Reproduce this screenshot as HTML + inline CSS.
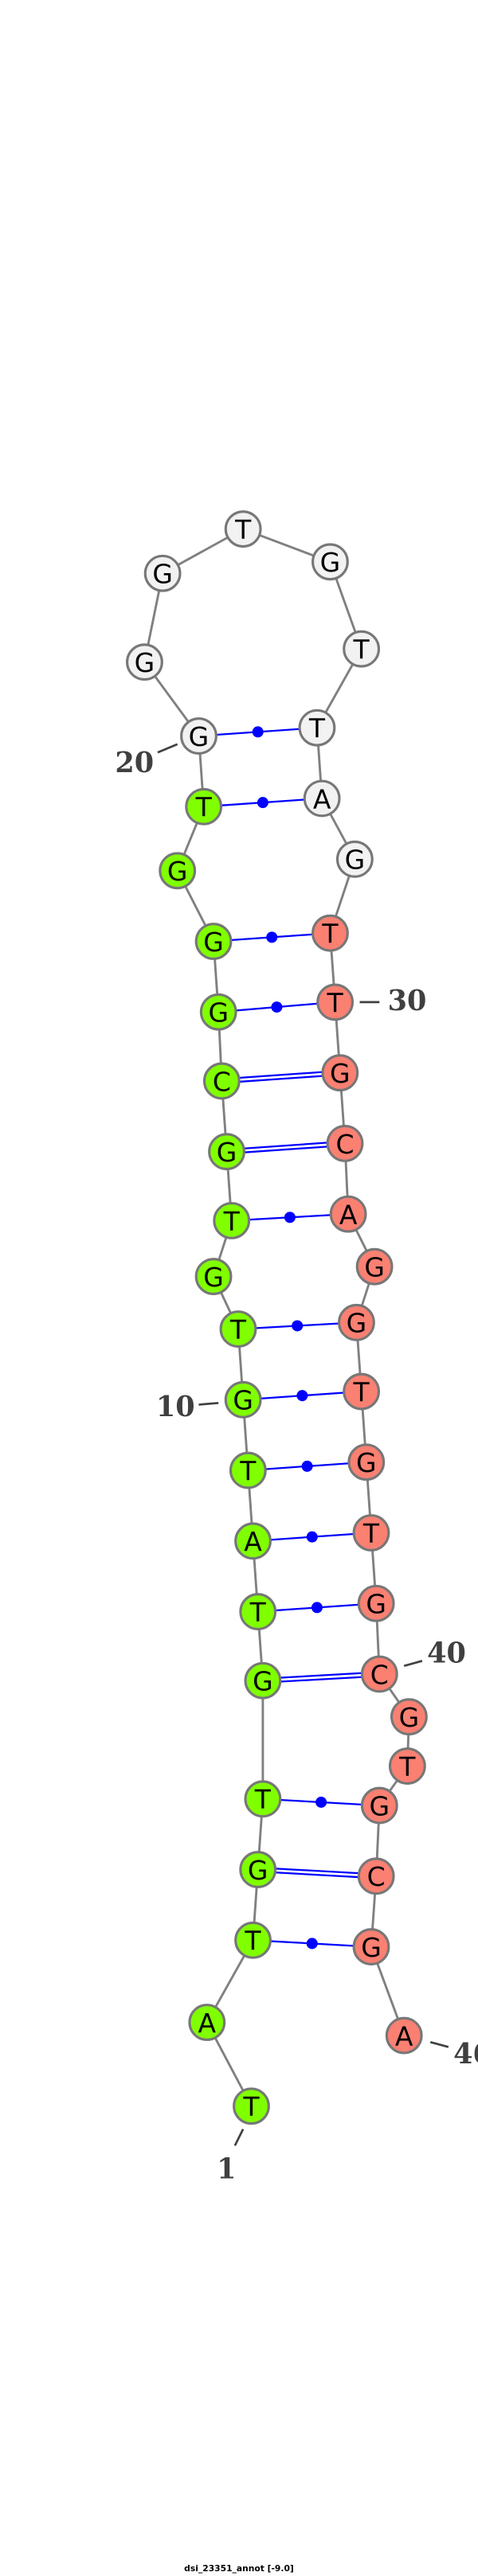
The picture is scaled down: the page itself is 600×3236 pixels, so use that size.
<!DOCTYPE html>
<html><head><meta charset="utf-8"><style>html,body{margin:0;padding:0;background:#fff}svg{display:block}</style></head>
<body>
<svg width="600" height="3236" viewBox="0 0 291 1568" preserveAspectRatio="none" xmlns="http://www.w3.org/2000/svg">
<rect width="291" height="1568" fill="#fff"/>
<g stroke="#808080" stroke-width="1.4" fill="none">
<polyline points="153,1282 126,1231 154,1181 157,1138 160,1095 160,1023 157,981 154,938 151,895 148,852 145,809 130,777 141,743 138,701 135,658 133,616 130,573 108,530 124,491 121,448 88,403 99,349 148,322 201,342 220,395 193,443 196,486 216,523 201,568 204,610 207,653 210,696 212,739 228,771 217,805 220,847 223,890 226,933 229,976 231,1019 249,1045 248,1075 231,1099 229,1142 226,1185 246,1239"/>
</g>
<g stroke="#0000ff" stroke-width="1.1" fill="#0000ff">
<line x1="121" y1="448" x2="193" y2="443"/><circle cx="157" cy="445.5" r="3.4" stroke="none"/>
<line x1="124" y1="491" x2="196" y2="486"/><circle cx="160" cy="488.5" r="3.4" stroke="none"/>
<line x1="130" y1="573" x2="201" y2="568"/><circle cx="165.5" cy="570.5" r="3.4" stroke="none"/>
<line x1="133" y1="616" x2="204" y2="610"/><circle cx="168.5" cy="613" r="3.4" stroke="none"/>
<line x1="135" y1="656.8" x2="207" y2="651.8"/><line x1="135" y1="659.2" x2="207" y2="654.2"/>
<line x1="138" y1="699.8" x2="210" y2="694.8"/><line x1="138" y1="702.2" x2="210" y2="697.2"/>
<line x1="141" y1="743" x2="212" y2="739"/><circle cx="176.5" cy="741" r="3.4" stroke="none"/>
<line x1="145" y1="809" x2="217" y2="805"/><circle cx="181" cy="807" r="3.4" stroke="none"/>
<line x1="148" y1="852" x2="220" y2="847"/><circle cx="184" cy="849.5" r="3.4" stroke="none"/>
<line x1="151" y1="895" x2="223" y2="890"/><circle cx="187" cy="892.5" r="3.4" stroke="none"/>
<line x1="154" y1="938" x2="226" y2="933"/><circle cx="190" cy="935.5" r="3.4" stroke="none"/>
<line x1="157" y1="981" x2="229" y2="976"/><circle cx="193" cy="978.5" r="3.4" stroke="none"/>
<line x1="160" y1="1021.8" x2="231" y2="1017.8"/><line x1="160" y1="1024.2" x2="231" y2="1020.2"/>
<line x1="160" y1="1095" x2="231" y2="1099"/><circle cx="195.5" cy="1097" r="3.4" stroke="none"/>
<line x1="157" y1="1136.8" x2="229" y2="1140.8"/><line x1="157" y1="1139.2" x2="229" y2="1143.2"/>
<line x1="154" y1="1181" x2="226" y2="1185"/><circle cx="190" cy="1183" r="3.4" stroke="none"/>
</g>
<g stroke="#777" stroke-width="1.5" font-family="'DejaVu Sans','Liberation Sans',sans-serif" font-size="16" text-anchor="middle">
<g fill="#7fff00">
<circle cx="153" cy="1282" r="10.6"/><circle cx="126" cy="1231" r="10.6"/><circle cx="154" cy="1181" r="10.6"/><circle cx="157" cy="1138" r="10.6"/><circle cx="160" cy="1095" r="10.6"/><circle cx="160" cy="1023" r="10.6"/><circle cx="157" cy="981" r="10.6"/><circle cx="154" cy="938" r="10.6"/><circle cx="151" cy="895" r="10.6"/><circle cx="148" cy="852" r="10.6"/><circle cx="145" cy="809" r="10.6"/><circle cx="130" cy="777" r="10.6"/><circle cx="141" cy="743" r="10.6"/><circle cx="138" cy="701" r="10.6"/><circle cx="135" cy="658" r="10.6"/><circle cx="133" cy="616" r="10.6"/><circle cx="130" cy="573" r="10.6"/><circle cx="108" cy="530" r="10.6"/><circle cx="124" cy="491" r="10.6"/>
</g>
<g fill="#f2f2f2">
<circle cx="121" cy="448" r="10.6"/><circle cx="88" cy="403" r="10.6"/><circle cx="99" cy="349" r="10.6"/><circle cx="148" cy="322" r="10.6"/><circle cx="201" cy="342" r="10.6"/><circle cx="220" cy="395" r="10.6"/><circle cx="193" cy="443" r="10.6"/><circle cx="196" cy="486" r="10.6"/><circle cx="216" cy="523" r="10.6"/>
</g>
<g fill="#fa8072">
<circle cx="201" cy="568" r="10.6"/><circle cx="204" cy="610" r="10.6"/><circle cx="207" cy="653" r="10.6"/><circle cx="210" cy="696" r="10.6"/><circle cx="212" cy="739" r="10.6"/><circle cx="228" cy="771" r="10.6"/><circle cx="217" cy="805" r="10.6"/><circle cx="220" cy="847" r="10.6"/><circle cx="223" cy="890" r="10.6"/><circle cx="226" cy="933" r="10.6"/><circle cx="229" cy="976" r="10.6"/><circle cx="231" cy="1019" r="10.6"/><circle cx="249" cy="1045" r="10.6"/><circle cx="248" cy="1075" r="10.6"/><circle cx="231" cy="1099" r="10.6"/><circle cx="229" cy="1142" r="10.6"/><circle cx="226" cy="1185" r="10.6"/><circle cx="246" cy="1239" r="10.6"/>
</g>
<g fill="#000" stroke="none">
<text x="153" y="1288">T</text><text x="126" y="1237">A</text><text x="154" y="1187">T</text><text x="157" y="1144">G</text><text x="160" y="1101">T</text><text x="160" y="1029">G</text><text x="157" y="987">T</text><text x="154" y="944">A</text><text x="151" y="901">T</text><text x="148" y="858">G</text><text x="145" y="815">T</text><text x="130" y="783">G</text><text x="141" y="749">T</text><text x="138" y="707">G</text><text x="135" y="664">C</text><text x="133" y="622">G</text><text x="130" y="579">G</text><text x="108" y="536">G</text><text x="124" y="497">T</text>
<text x="121" y="454">G</text><text x="88" y="409">G</text><text x="99" y="355">G</text><text x="148" y="328">T</text><text x="201" y="348">G</text><text x="220" y="401">T</text><text x="193" y="449">T</text><text x="196" y="492">A</text><text x="216" y="529">G</text>
<text x="201" y="574">T</text><text x="204" y="616">T</text><text x="207" y="659">G</text><text x="210" y="702">C</text><text x="212" y="745">A</text><text x="228" y="777">G</text><text x="217" y="811">G</text><text x="220" y="853">T</text><text x="223" y="896">G</text><text x="226" y="939">T</text><text x="229" y="982">G</text><text x="231" y="1025">C</text><text x="249" y="1051">G</text><text x="248" y="1081">T</text><text x="231" y="1105">G</text><text x="229" y="1148">C</text><text x="226" y="1191">G</text><text x="246" y="1245">A</text>
</g>
</g>
<g stroke="#404040" stroke-width="1.3">
<line x1="96" y1="458" x2="108" y2="453"/>
<line x1="219" y1="610" x2="231" y2="610"/>
<line x1="121" y1="855" x2="133" y2="854"/>
<line x1="246" y1="1014" x2="257" y2="1011"/>
<line x1="262" y1="1243" x2="273" y2="1246"/>
<line x1="143" y1="1306" x2="148" y2="1296"/>
</g>
<g fill="#404040" font-family="'DejaVu Serif','Liberation Serif',serif" font-weight="bold" font-size="17">
<text x="70" y="470">20</text>
<text x="236" y="615">30</text>
<text x="95" y="862">10</text>
<text x="260" y="1012">40</text>
<text x="276" y="1256">46</text>
<text x="132" y="1326">1</text>
</g>
<text x="145.5" y="1565" text-anchor="middle" font-family="'DejaVu Sans','Liberation Sans',sans-serif" font-weight="bold" font-size="5.2" fill="#000">dsi_23351_annot [-9.0]</text>
</svg>
</body></html>
